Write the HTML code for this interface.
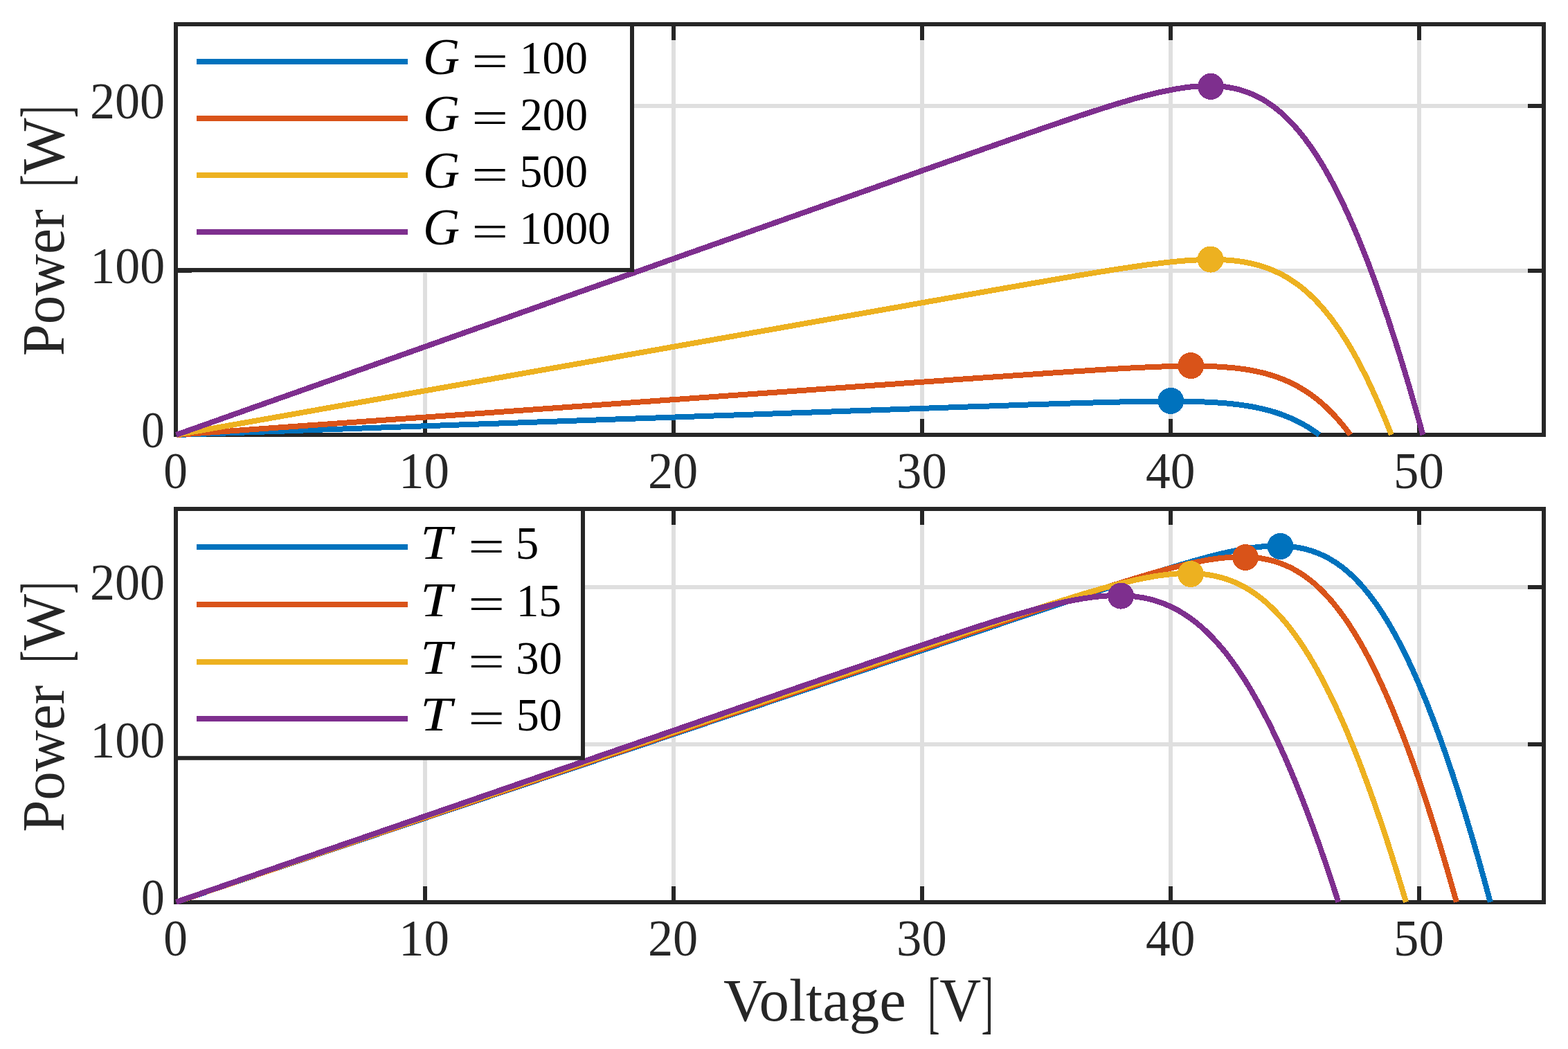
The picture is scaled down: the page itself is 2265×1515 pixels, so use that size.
<!DOCTYPE html>
<html><head><meta charset="utf-8"><title>PV curves</title>
<style>
html,body{margin:0;padding:0;background:#fff;overflow:hidden;width:2265px;height:1515px;}
svg{display:block;}
text{font-family:"Liberation Serif","DejaVu Serif",serif;}
.tk{font-size:73.5px;fill:#262626;}
.lg{font-size:68.5px;fill:#000;}
.it{font-style:italic;}
.lb{font-size:87px;fill:#262626;}
</style></head><body>
<svg width="2265" height="1515" viewBox="0 0 2265 1515">
<rect width="2265" height="1515" fill="#fff"/>
<rect x="611" y="35.0" width="6" height="593.0" fill="#dfdfdf"/>
<rect x="970" y="35.0" width="6" height="593.0" fill="#dfdfdf"/>
<rect x="1329" y="35.0" width="6" height="593.0" fill="#dfdfdf"/>
<rect x="1688" y="35.0" width="6" height="593.0" fill="#dfdfdf"/>
<rect x="2047" y="35.0" width="6" height="593.0" fill="#dfdfdf"/>
<rect x="254.0" y="388" width="1976.0" height="6" fill="#dfdfdf"/>
<rect x="254.0" y="150" width="1976.0" height="6" fill="#dfdfdf"/>
<rect x="611" y="605.0" width="6" height="23" fill="#262626"/>
<rect x="611" y="35.0" width="6" height="23" fill="#262626"/>
<rect x="970" y="605.0" width="6" height="23" fill="#262626"/>
<rect x="970" y="35.0" width="6" height="23" fill="#262626"/>
<rect x="1329" y="605.0" width="6" height="23" fill="#262626"/>
<rect x="1329" y="35.0" width="6" height="23" fill="#262626"/>
<rect x="1688" y="605.0" width="6" height="23" fill="#262626"/>
<rect x="1688" y="35.0" width="6" height="23" fill="#262626"/>
<rect x="2047" y="605.0" width="6" height="23" fill="#262626"/>
<rect x="2047" y="35.0" width="6" height="23" fill="#262626"/>
<rect x="254.0" y="388" width="23" height="6" fill="#262626"/>
<rect x="2207.0" y="388" width="23" height="6" fill="#262626"/>
<rect x="254.0" y="150" width="23" height="6" fill="#262626"/>
<rect x="2207.0" y="150" width="23" height="6" fill="#262626"/>
<rect x="254.0" y="35.0" width="1976.0" height="593.0" fill="none" stroke="#262626" stroke-width="6"/>
<polyline points="254.5,628.0 306.6,626.2 358.8,624.3 410.9,622.5 463.1,620.6 515.2,618.8 567.3,616.9 619.5,615.1 671.6,613.2 723.8,611.4 775.9,609.5 828.1,607.7 880.2,605.8 932.3,604.0 984.5,602.2 1036.6,600.3 1088.8,598.5 1140.9,596.6 1193.0,594.8 1245.2,592.9 1247.7,592.8 1250.3,592.7 1252.8,592.7 1255.4,592.6 1257.9,592.5 1260.5,592.4 1263.0,592.3 1265.6,592.2 1268.1,592.1 1270.7,592.0 1273.2,591.9 1275.8,591.8 1278.3,591.8 1280.9,591.7 1283.4,591.6 1286.0,591.5 1288.5,591.4 1291.1,591.3 1293.6,591.2 1296.2,591.1 1298.7,591.0 1301.3,590.9 1303.8,590.9 1306.4,590.8 1308.9,590.7 1311.5,590.6 1314.0,590.5 1316.6,590.4 1319.1,590.3 1321.7,590.2 1324.2,590.1 1326.8,590.0 1329.3,589.9 1331.9,589.9 1334.4,589.8 1337.0,589.7 1339.5,589.6 1342.1,589.5 1344.6,589.4 1347.2,589.3 1349.7,589.2 1352.3,589.1 1354.8,589.1 1357.4,589.0 1359.9,588.9 1362.5,588.8 1365.0,588.7 1367.6,588.6 1370.1,588.5 1372.7,588.4 1375.2,588.3 1377.8,588.2 1380.3,588.2 1382.9,588.1 1385.4,588.0 1388.0,587.9 1390.5,587.8 1393.1,587.7 1395.6,587.6 1398.2,587.5 1400.7,587.4 1403.3,587.3 1405.8,587.3 1408.4,587.2 1410.9,587.1 1413.5,587.0 1416.0,586.9 1418.6,586.8 1421.1,586.7 1423.7,586.6 1426.2,586.5 1428.8,586.5 1431.3,586.4 1433.9,586.3 1436.4,586.2 1439.0,586.1 1441.5,586.0 1444.1,585.9 1446.6,585.8 1449.2,585.8 1451.7,585.7 1454.3,585.6 1456.8,585.5 1459.4,585.4 1461.9,585.3 1464.5,585.2 1467.0,585.1 1469.6,585.0 1472.1,585.0 1474.7,584.9 1477.2,584.8 1479.8,584.7 1482.3,584.6 1484.9,584.5 1487.4,584.4 1490.0,584.4 1492.5,584.3 1495.1,584.2 1497.6,584.1 1500.2,584.0 1502.7,583.9 1505.3,583.8 1507.8,583.8 1510.4,583.7 1512.9,583.6 1515.5,583.5 1518.0,583.4 1520.6,583.3 1523.1,583.2 1525.7,583.2 1528.2,583.1 1530.8,583.0 1533.3,582.9 1535.9,582.8 1538.4,582.8 1541.0,582.7 1543.5,582.6 1546.1,582.5 1548.6,582.4 1551.2,582.3 1553.7,582.3 1556.3,582.2 1558.8,582.1 1561.4,582.0 1563.9,582.0 1566.5,581.9 1569.0,581.8 1571.6,581.7 1574.1,581.7 1576.7,581.6 1579.2,581.5 1581.8,581.4 1584.3,581.4 1586.9,581.3 1589.4,581.2 1592.0,581.1 1594.5,581.1 1597.1,581.0 1599.6,580.9 1602.2,580.9 1604.7,580.8 1607.3,580.7 1609.8,580.7 1612.4,580.6 1614.9,580.5 1617.5,580.5 1620.0,580.4 1622.6,580.4 1625.1,580.3 1627.7,580.3 1630.2,580.2 1632.8,580.1 1635.3,580.1 1637.9,580.0 1640.4,580.0 1643.0,579.9 1645.5,579.9 1648.1,579.9 1650.6,579.8 1653.2,579.8 1655.7,579.7 1658.3,579.7 1660.8,579.7 1663.4,579.6 1665.9,579.6 1668.5,579.6 1671.0,579.6 1673.6,579.6 1676.1,579.5 1678.7,579.5 1681.2,579.5 1683.8,579.5 1686.3,579.5 1688.9,579.5 1691.4,579.5 1694.0,579.5 1696.5,579.5 1699.1,579.5 1701.6,579.5 1704.2,579.6 1706.7,579.6 1709.3,579.6 1711.8,579.7 1714.4,579.7 1716.9,579.8 1719.5,579.8 1722.0,579.9 1724.6,579.9 1727.1,580.0 1729.7,580.1 1732.2,580.2 1734.8,580.3 1737.3,580.3 1739.9,580.5 1742.4,580.6 1745.0,580.7 1747.5,580.8 1750.1,581.0 1752.6,581.1 1755.2,581.3 1757.7,581.4 1760.3,581.6 1762.8,581.8 1765.4,582.0 1767.9,582.2 1770.5,582.4 1773.0,582.6 1775.6,582.9 1778.1,583.1 1780.7,583.4 1783.2,583.7 1785.8,584.0 1788.3,584.3 1790.9,584.6 1793.4,585.0 1796.0,585.4 1798.5,585.7 1801.1,586.1 1803.6,586.5 1806.2,587.0 1808.7,587.4 1811.3,587.9 1813.8,588.4 1816.4,588.9 1818.9,589.5 1821.5,590.0 1824.0,590.6 1826.6,591.2 1829.1,591.9 1831.7,592.5 1834.2,593.2 1836.8,594.0 1839.3,594.7 1841.9,595.5 1844.4,596.3 1847.0,597.2 1849.5,598.0 1852.1,598.9 1854.6,599.9 1857.2,600.9 1859.7,601.9 1862.3,603.0 1864.8,604.1 1867.4,605.2 1869.9,606.4 1872.5,607.6 1875.0,608.9 1877.6,610.2 1880.2,611.6 1882.7,613.0 1885.3,614.4 1887.8,615.9 1890.4,617.5 1892.9,619.1 1895.5,620.8 1898.0,622.5 1900.6,624.3 1903.1,626.1 1905.7,628.0" fill="none" stroke="#0072BD" stroke-width="8" stroke-linejoin="round" shape-rendering="crispEdges"/>
<polyline points="254.5,628.0 308.1,624.2 361.6,620.4 415.2,616.6 468.7,612.8 522.3,609.0 575.9,605.2 629.4,601.5 683.0,597.7 736.5,593.9 790.1,590.1 843.7,586.3 897.2,582.5 950.8,578.7 1004.3,574.9 1057.9,571.1 1111.5,567.3 1165.0,563.5 1218.6,559.7 1272.1,555.9 1274.7,555.8 1277.4,555.6 1280.0,555.4 1282.6,555.2 1285.2,555.0 1287.8,554.8 1290.5,554.6 1293.1,554.5 1295.7,554.3 1298.3,554.1 1300.9,553.9 1303.6,553.7 1306.2,553.5 1308.8,553.3 1311.4,553.2 1314.0,553.0 1316.7,552.8 1319.3,552.6 1321.9,552.4 1324.5,552.2 1327.1,552.0 1329.8,551.9 1332.4,551.7 1335.0,551.5 1337.6,551.3 1340.2,551.1 1342.9,550.9 1345.5,550.8 1348.1,550.6 1350.7,550.4 1353.3,550.2 1355.9,550.0 1358.6,549.8 1361.2,549.6 1363.8,549.5 1366.4,549.3 1369.0,549.1 1371.7,548.9 1374.3,548.7 1376.9,548.5 1379.5,548.4 1382.1,548.2 1384.8,548.0 1387.4,547.8 1390.0,547.6 1392.6,547.4 1395.2,547.2 1397.9,547.1 1400.5,546.9 1403.1,546.7 1405.7,546.5 1408.3,546.3 1411.0,546.1 1413.6,546.0 1416.2,545.8 1418.8,545.6 1421.4,545.4 1424.1,545.2 1426.7,545.0 1429.3,544.9 1431.9,544.7 1434.5,544.5 1437.1,544.3 1439.8,544.1 1442.4,543.9 1445.0,543.8 1447.6,543.6 1450.2,543.4 1452.9,543.2 1455.5,543.0 1458.1,542.8 1460.7,542.7 1463.3,542.5 1466.0,542.3 1468.6,542.1 1471.2,541.9 1473.8,541.7 1476.4,541.6 1479.1,541.4 1481.7,541.2 1484.3,541.0 1486.9,540.8 1489.5,540.7 1492.2,540.5 1494.8,540.3 1497.4,540.1 1500.0,539.9 1502.6,539.8 1505.3,539.6 1507.9,539.4 1510.5,539.2 1513.1,539.0 1515.7,538.9 1518.4,538.7 1521.0,538.5 1523.6,538.3 1526.2,538.2 1528.8,538.0 1531.4,537.8 1534.1,537.6 1536.7,537.5 1539.3,537.3 1541.9,537.1 1544.5,536.9 1547.2,536.8 1549.8,536.6 1552.4,536.4 1555.0,536.2 1557.6,536.1 1560.3,535.9 1562.9,535.7 1565.5,535.6 1568.1,535.4 1570.7,535.2 1573.4,535.1 1576.0,534.9 1578.6,534.7 1581.2,534.6 1583.8,534.4 1586.5,534.2 1589.1,534.1 1591.7,533.9 1594.3,533.7 1596.9,533.6 1599.6,533.4 1602.2,533.3 1604.8,533.1 1607.4,533.0 1610.0,532.8 1612.6,532.7 1615.3,532.5 1617.9,532.4 1620.5,532.2 1623.1,532.1 1625.7,531.9 1628.4,531.8 1631.0,531.6 1633.6,531.5 1636.2,531.4 1638.8,531.2 1641.5,531.1 1644.1,531.0 1646.7,530.8 1649.3,530.7 1651.9,530.6 1654.6,530.5 1657.2,530.3 1659.8,530.2 1662.4,530.1 1665.0,530.0 1667.7,529.9 1670.3,529.8 1672.9,529.7 1675.5,529.6 1678.1,529.5 1680.8,529.4 1683.4,529.3 1686.0,529.2 1688.6,529.2 1691.2,529.1 1693.8,529.0 1696.5,529.0 1699.1,528.9 1701.7,528.9 1704.3,528.8 1706.9,528.8 1709.6,528.7 1712.2,528.7 1714.8,528.7 1717.4,528.7 1720.0,528.7 1722.7,528.7 1725.3,528.7 1727.9,528.7 1730.5,528.7 1733.1,528.7 1735.8,528.8 1738.4,528.8 1741.0,528.9 1743.6,528.9 1746.2,529.0 1748.9,529.1 1751.5,529.2 1754.1,529.3 1756.7,529.4 1759.3,529.6 1762.0,529.7 1764.6,529.9 1767.2,530.1 1769.8,530.3 1772.4,530.5 1775.0,530.7 1777.7,530.9 1780.3,531.2 1782.9,531.4 1785.5,531.7 1788.1,532.0 1790.8,532.3 1793.4,532.7 1796.0,533.1 1798.6,533.4 1801.2,533.9 1803.9,534.3 1806.5,534.7 1809.1,535.2 1811.7,535.7 1814.3,536.3 1817.0,536.8 1819.6,537.4 1822.2,538.0 1824.8,538.7 1827.4,539.3 1830.1,540.0 1832.7,540.8 1835.3,541.6 1837.9,542.4 1840.5,543.2 1843.2,544.1 1845.8,545.0 1848.4,546.0 1851.0,547.0 1853.6,548.0 1856.3,549.1 1858.9,550.2 1861.5,551.4 1864.1,552.6 1866.7,553.9 1869.3,555.2 1872.0,556.6 1874.6,558.0 1877.2,559.5 1879.8,561.0 1882.4,562.6 1885.1,564.2 1887.7,565.9 1890.3,567.7 1892.9,569.5 1895.5,571.4 1898.2,573.4 1900.8,575.4 1903.4,577.5 1906.0,579.6 1908.6,581.8 1911.3,584.1 1913.9,586.5 1916.5,588.9 1919.1,591.5 1921.7,594.1 1924.4,596.7 1927.0,599.5 1929.6,602.3 1932.2,605.2 1934.8,608.2 1937.5,611.3 1940.1,614.5 1942.7,617.7 1945.3,621.1 1947.9,624.5 1950.5,628.0" fill="none" stroke="#D95319" stroke-width="8" stroke-linejoin="round" shape-rendering="crispEdges"/>
<polyline points="254.5,628.0 309.9,618.2 365.4,608.4 420.8,598.6 476.2,588.7 531.7,578.9 587.1,569.1 642.5,559.3 697.9,549.5 753.4,539.7 808.8,529.9 864.2,520.1 919.7,510.2 975.1,500.4 1030.5,490.6 1086.0,480.8 1141.4,471.0 1196.8,461.2 1252.3,451.4 1307.7,441.6 1310.4,441.1 1313.1,440.6 1315.8,440.1 1318.5,439.6 1321.2,439.2 1324.0,438.7 1326.7,438.2 1329.4,437.7 1332.1,437.2 1334.8,436.8 1337.5,436.3 1340.2,435.8 1342.9,435.3 1345.6,434.8 1348.4,434.4 1351.1,433.9 1353.8,433.4 1356.5,432.9 1359.2,432.5 1361.9,432.0 1364.6,431.5 1367.3,431.0 1370.0,430.5 1372.7,430.1 1375.5,429.6 1378.2,429.1 1380.9,428.6 1383.6,428.1 1386.3,427.7 1389.0,427.2 1391.7,426.7 1394.4,426.2 1397.1,425.8 1399.9,425.3 1402.6,424.8 1405.3,424.3 1408.0,423.8 1410.7,423.4 1413.4,422.9 1416.1,422.4 1418.8,421.9 1421.5,421.5 1424.3,421.0 1427.0,420.5 1429.7,420.0 1432.4,419.5 1435.1,419.1 1437.8,418.6 1440.5,418.1 1443.2,417.6 1445.9,417.2 1448.7,416.7 1451.4,416.2 1454.1,415.7 1456.8,415.3 1459.5,414.8 1462.2,414.3 1464.9,413.8 1467.6,413.4 1470.3,412.9 1473.1,412.4 1475.8,411.9 1478.5,411.5 1481.2,411.0 1483.9,410.5 1486.6,410.1 1489.3,409.6 1492.0,409.1 1494.7,408.6 1497.5,408.2 1500.2,407.7 1502.9,407.2 1505.6,406.8 1508.3,406.3 1511.0,405.8 1513.7,405.4 1516.4,404.9 1519.1,404.4 1521.8,404.0 1524.6,403.5 1527.3,403.0 1530.0,402.6 1532.7,402.1 1535.4,401.6 1538.1,401.2 1540.8,400.7 1543.5,400.3 1546.2,399.8 1549.0,399.3 1551.7,398.9 1554.4,398.4 1557.1,398.0 1559.8,397.5 1562.5,397.1 1565.2,396.6 1567.9,396.2 1570.6,395.7 1573.4,395.3 1576.1,394.8 1578.8,394.4 1581.5,393.9 1584.2,393.5 1586.9,393.0 1589.6,392.6 1592.3,392.2 1595.0,391.7 1597.8,391.3 1600.5,390.9 1603.2,390.4 1605.9,390.0 1608.6,389.6 1611.3,389.1 1614.0,388.7 1616.7,388.3 1619.4,387.9 1622.2,387.5 1624.9,387.1 1627.6,386.7 1630.3,386.3 1633.0,385.9 1635.7,385.5 1638.4,385.1 1641.1,384.7 1643.8,384.3 1646.6,383.9 1649.3,383.5 1652.0,383.2 1654.7,382.8 1657.4,382.4 1660.1,382.1 1662.8,381.7 1665.5,381.4 1668.2,381.0 1670.9,380.7 1673.7,380.4 1676.4,380.0 1679.1,379.7 1681.8,379.4 1684.5,379.1 1687.2,378.8 1689.9,378.5 1692.6,378.2 1695.3,378.0 1698.1,377.7 1700.8,377.4 1703.5,377.2 1706.2,377.0 1708.9,376.7 1711.6,376.5 1714.3,376.3 1717.0,376.1 1719.7,375.9 1722.5,375.8 1725.2,375.6 1727.9,375.5 1730.6,375.3 1733.3,375.2 1736.0,375.1 1738.7,375.1 1741.4,375.0 1744.1,374.9 1746.9,374.9 1749.6,374.9 1752.3,374.9 1755.0,374.9 1757.7,375.0 1760.4,375.0 1763.1,375.1 1765.8,375.2 1768.5,375.4 1771.3,375.5 1774.0,375.7 1776.7,375.9 1779.4,376.2 1782.1,376.4 1784.8,376.7 1787.5,377.1 1790.2,377.4 1792.9,377.8 1795.7,378.2 1798.4,378.7 1801.1,379.2 1803.8,379.7 1806.5,380.3 1809.2,380.9 1811.9,381.5 1814.6,382.2 1817.3,383.0 1820.0,383.7 1822.8,384.6 1825.5,385.4 1828.2,386.4 1830.9,387.3 1833.6,388.3 1836.3,389.4 1839.0,390.5 1841.7,391.7 1844.4,393.0 1847.2,394.2 1849.9,395.6 1852.6,397.0 1855.3,398.5 1858.0,400.0 1860.7,401.7 1863.4,403.3 1866.1,405.1 1868.8,406.9 1871.6,408.8 1874.3,410.7 1877.0,412.8 1879.7,414.9 1882.4,417.1 1885.1,419.4 1887.8,421.7 1890.5,424.1 1893.2,426.7 1896.0,429.3 1898.7,432.0 1901.4,434.7 1904.1,437.6 1906.8,440.6 1909.5,443.6 1912.2,446.7 1914.9,450.0 1917.6,453.3 1920.4,456.7 1923.1,460.2 1925.8,463.9 1928.5,467.6 1931.2,471.4 1933.9,475.3 1936.6,479.3 1939.3,483.5 1942.0,487.7 1944.8,492.0 1947.5,496.4 1950.2,501.0 1952.9,505.6 1955.6,510.4 1958.3,515.2 1961.0,520.2 1963.7,525.3 1966.4,530.4 1969.1,535.7 1971.9,541.1 1974.6,546.6 1977.3,552.2 1980.0,557.9 1982.7,563.8 1985.4,569.7 1988.1,575.7 1990.8,581.9 1993.5,588.2 1996.3,594.5 1999.0,601.0 2001.7,607.6 2004.4,614.3 2007.1,621.1 2009.8,628.0" fill="none" stroke="#EDB120" stroke-width="8" stroke-linejoin="round" shape-rendering="crispEdges"/>
<polyline points="254.5,628.0 311.4,607.9 368.2,587.7 425.1,567.6 482.0,547.5 538.9,527.3 595.7,507.2 652.6,487.0 709.5,466.9 766.3,446.8 823.2,426.6 880.1,406.5 937.0,386.4 993.8,366.2 1050.7,346.1 1107.6,325.9 1164.4,305.8 1221.3,285.7 1278.2,265.6 1335.1,245.4 1337.8,244.5 1340.6,243.5 1343.4,242.5 1346.2,241.5 1349.0,240.5 1351.7,239.5 1354.5,238.6 1357.3,237.6 1360.1,236.6 1362.9,235.6 1365.7,234.6 1368.4,233.6 1371.2,232.7 1374.0,231.7 1376.8,230.7 1379.6,229.7 1382.3,228.7 1385.1,227.8 1387.9,226.8 1390.7,225.8 1393.5,224.8 1396.2,223.8 1399.0,222.9 1401.8,221.9 1404.6,220.9 1407.4,219.9 1410.2,218.9 1412.9,218.0 1415.7,217.0 1418.5,216.0 1421.3,215.0 1424.1,214.0 1426.8,213.1 1429.6,212.1 1432.4,211.1 1435.2,210.1 1438.0,209.2 1440.7,208.2 1443.5,207.2 1446.3,206.2 1449.1,205.3 1451.9,204.3 1454.7,203.3 1457.4,202.3 1460.2,201.4 1463.0,200.4 1465.8,199.4 1468.6,198.5 1471.3,197.5 1474.1,196.5 1476.9,195.5 1479.7,194.6 1482.5,193.6 1485.3,192.6 1488.0,191.7 1490.8,190.7 1493.6,189.7 1496.4,188.8 1499.2,187.8 1501.9,186.9 1504.7,185.9 1507.5,184.9 1510.3,184.0 1513.1,183.0 1515.8,182.1 1518.6,181.1 1521.4,180.2 1524.2,179.2 1527.0,178.3 1529.8,177.3 1532.5,176.4 1535.3,175.4 1538.1,174.5 1540.9,173.5 1543.7,172.6 1546.4,171.7 1549.2,170.7 1552.0,169.8 1554.8,168.9 1557.6,167.9 1560.3,167.0 1563.1,166.1 1565.9,165.2 1568.7,164.3 1571.5,163.3 1574.3,162.4 1577.0,161.5 1579.8,160.6 1582.6,159.7 1585.4,158.8 1588.2,157.9 1590.9,157.0 1593.7,156.2 1596.5,155.3 1599.3,154.4 1602.1,153.5 1604.8,152.7 1607.6,151.8 1610.4,150.9 1613.2,150.1 1616.0,149.2 1618.8,148.4 1621.5,147.6 1624.3,146.8 1627.1,145.9 1629.9,145.1 1632.7,144.3 1635.4,143.5 1638.2,142.7 1641.0,142.0 1643.8,141.2 1646.6,140.4 1649.4,139.7 1652.1,138.9 1654.9,138.2 1657.7,137.5 1660.5,136.8 1663.3,136.1 1666.0,135.4 1668.8,134.7 1671.6,134.1 1674.4,133.4 1677.2,132.8 1679.9,132.2 1682.7,131.6 1685.5,131.0 1688.3,130.5 1691.1,129.9 1693.9,129.4 1696.6,128.9 1699.4,128.4 1702.2,127.9 1705.0,127.5 1707.8,127.1 1710.5,126.6 1713.3,126.3 1716.1,125.9 1718.9,125.6 1721.7,125.3 1724.4,125.0 1727.2,124.8 1730.0,124.6 1732.8,124.4 1735.6,124.2 1738.4,124.1 1741.1,124.0 1743.9,124.0 1746.7,124.0 1749.5,124.0 1752.3,124.0 1755.0,124.2 1757.8,124.3 1760.6,124.5 1763.4,124.7 1766.2,125.0 1768.9,125.3 1771.7,125.7 1774.5,126.1 1777.3,126.6 1780.1,127.1 1782.9,127.7 1785.6,128.3 1788.4,129.0 1791.2,129.8 1794.0,130.6 1796.8,131.5 1799.5,132.4 1802.3,133.4 1805.1,134.5 1807.9,135.6 1810.7,136.9 1813.5,138.1 1816.2,139.5 1819.0,140.9 1821.8,142.4 1824.6,144.0 1827.4,145.7 1830.1,147.4 1832.9,149.3 1835.7,151.2 1838.5,153.2 1841.3,155.2 1844.0,157.4 1846.8,159.7 1849.6,162.0 1852.4,164.5 1855.2,167.0 1858.0,169.7 1860.7,172.4 1863.5,175.2 1866.3,178.1 1869.1,181.2 1871.9,184.3 1874.6,187.5 1877.4,190.8 1880.2,194.3 1883.0,197.8 1885.8,201.5 1888.5,205.2 1891.3,209.1 1894.1,213.0 1896.9,217.1 1899.7,221.3 1902.5,225.5 1905.2,229.9 1908.0,234.4 1910.8,239.1 1913.6,243.8 1916.4,248.6 1919.1,253.6 1921.9,258.6 1924.7,263.8 1927.5,269.1 1930.3,274.5 1933.0,280.0 1935.8,285.6 1938.6,291.3 1941.4,297.1 1944.2,303.1 1947.0,309.1 1949.7,315.3 1952.5,321.6 1955.3,328.0 1958.1,334.5 1960.9,341.1 1963.6,347.8 1966.4,354.6 1969.2,361.6 1972.0,368.6 1974.8,375.8 1977.6,383.0 1980.3,390.4 1983.1,397.9 1985.9,405.5 1988.7,413.2 1991.5,421.0 1994.2,428.9 1997.0,436.9 1999.8,445.0 2002.6,453.2 2005.4,461.5 2008.1,469.9 2010.9,478.4 2013.7,487.0 2016.5,495.7 2019.3,504.6 2022.1,513.5 2024.8,522.5 2027.6,531.6 2030.4,540.8 2033.2,550.1 2036.0,559.5 2038.7,569.0 2041.5,578.6 2044.3,588.3 2047.1,598.1 2049.9,608.0 2052.6,617.9 2055.4,628.0" fill="none" stroke="#7E2F8E" stroke-width="8" stroke-linejoin="round" shape-rendering="crispEdges"/>
<circle cx="1691.3" cy="578.9" r="19" fill="#0072BD" shape-rendering="crispEdges"/>
<circle cx="1720.3" cy="528.1" r="19" fill="#D95319" shape-rendering="crispEdges"/>
<circle cx="1748.6" cy="374.6" r="19" fill="#EDB120" shape-rendering="crispEdges"/>
<circle cx="1749.0" cy="124.9" r="19" fill="#7E2F8E" shape-rendering="crispEdges"/>
<rect x="254.0" y="35" width="659.0" height="355" fill="#fff" stroke="#262626" stroke-width="6"/>
<line x1="284" y1="89" x2="589" y2="89" stroke="#0072BD" stroke-width="8"/>
<text x="611" y="107.1" class="lg it" style="font-size:73.5px">G</text>
<text transform="translate(681.2,110.9) scale(1.38,1)" class="lg" style="font-size:68px">=</text>
<text transform="translate(750.76,105.60) scale(0.9557,1.0000)" class="lg" style="font-size:68.5px">100</text>
<line x1="284" y1="171" x2="589" y2="171" stroke="#D95319" stroke-width="8"/>
<text x="611" y="189.1" class="lg it" style="font-size:73.5px">G</text>
<text transform="translate(681.2,192.9) scale(1.38,1)" class="lg" style="font-size:68px">=</text>
<text transform="translate(751.29,187.60) scale(0.9515,1.0000)" class="lg" style="font-size:68.5px">200</text>
<line x1="284" y1="253" x2="589" y2="253" stroke="#EDB120" stroke-width="8"/>
<text x="611" y="271.1" class="lg it" style="font-size:73.5px">G</text>
<text transform="translate(681.2,274.9) scale(1.38,1)" class="lg" style="font-size:68px">=</text>
<text transform="translate(750.52,269.60) scale(0.9582,1.0000)" class="lg" style="font-size:68.5px">500</text>
<line x1="284" y1="335" x2="589" y2="335" stroke="#7E2F8E" stroke-width="8"/>
<text x="611" y="353.1" class="lg it" style="font-size:73.5px">G</text>
<text transform="translate(681.2,356.9) scale(1.38,1)" class="lg" style="font-size:68px">=</text>
<text transform="translate(750.33,351.60) scale(0.9616,1.0000)" class="lg" style="font-size:68.5px">1000</text>
<text transform="translate(236.22,704.80) scale(0.9431,1.0000)" class="tk" style="font-size:73.5px">0</text>
<text transform="translate(575.95,704.80) scale(0.9952,1.0000)" class="tk" style="font-size:73.5px">10</text>
<text transform="translate(935.91,704.80) scale(0.9846,1.0000)" class="tk" style="font-size:73.5px">20</text>
<text transform="translate(1295.09,704.80) scale(0.9890,1.0000)" class="tk" style="font-size:73.5px">30</text>
<text transform="translate(1655.09,704.80) scale(0.9708,1.0000)" class="tk" style="font-size:73.5px">40</text>
<text transform="translate(2013.06,704.80) scale(0.9908,1.0000)" class="tk" style="font-size:73.5px">50</text>
<text transform="translate(204.07,646.30) scale(0.9184,1.0000)" class="tk" style="font-size:73.5px">0</text>
<text transform="translate(130.24,408.85) scale(0.9788,1.0000)" class="tk" style="font-size:73.5px">100</text>
<text transform="translate(130.02,171.40) scale(0.9809,1.0000)" class="tk" style="font-size:73.5px">200</text>
<rect x="611" y="735.0" width="6" height="568.0" fill="#dfdfdf"/>
<rect x="970" y="735.0" width="6" height="568.0" fill="#dfdfdf"/>
<rect x="1329" y="735.0" width="6" height="568.0" fill="#dfdfdf"/>
<rect x="1688" y="735.0" width="6" height="568.0" fill="#dfdfdf"/>
<rect x="2047" y="735.0" width="6" height="568.0" fill="#dfdfdf"/>
<rect x="254.0" y="1072" width="1976.0" height="6" fill="#dfdfdf"/>
<rect x="254.0" y="845" width="1976.0" height="6" fill="#dfdfdf"/>
<rect x="611" y="1280.0" width="6" height="23" fill="#262626"/>
<rect x="611" y="735.0" width="6" height="23" fill="#262626"/>
<rect x="970" y="1280.0" width="6" height="23" fill="#262626"/>
<rect x="970" y="735.0" width="6" height="23" fill="#262626"/>
<rect x="1329" y="1280.0" width="6" height="23" fill="#262626"/>
<rect x="1329" y="735.0" width="6" height="23" fill="#262626"/>
<rect x="1688" y="1280.0" width="6" height="23" fill="#262626"/>
<rect x="1688" y="735.0" width="6" height="23" fill="#262626"/>
<rect x="2047" y="1280.0" width="6" height="23" fill="#262626"/>
<rect x="2047" y="735.0" width="6" height="23" fill="#262626"/>
<rect x="254.0" y="1072" width="23" height="6" fill="#262626"/>
<rect x="2207.0" y="1072" width="23" height="6" fill="#262626"/>
<rect x="254.0" y="845" width="23" height="6" fill="#262626"/>
<rect x="2207.0" y="845" width="23" height="6" fill="#262626"/>
<rect x="254.0" y="735.0" width="1976.0" height="568.0" fill="none" stroke="#262626" stroke-width="6"/>
<polyline points="254.5,1302.8 314.4,1282.6 374.4,1262.3 434.3,1242.1 494.3,1221.9 554.2,1201.7 614.2,1181.4 674.1,1161.2 734.1,1141.0 794.0,1120.7 854.0,1100.5 913.9,1080.3 973.8,1060.1 1033.8,1039.8 1093.7,1019.6 1153.7,999.4 1213.6,979.1 1273.6,958.9 1333.5,938.7 1393.5,918.5 1396.4,917.5 1399.3,916.5 1402.3,915.5 1405.2,914.5 1408.1,913.5 1411.0,912.5 1414.0,911.6 1416.9,910.6 1419.8,909.6 1422.8,908.6 1425.7,907.6 1428.6,906.6 1431.6,905.6 1434.5,904.6 1437.4,903.7 1440.4,902.7 1443.3,901.7 1446.2,900.7 1449.2,899.7 1452.1,898.7 1455.0,897.7 1458.0,896.7 1460.9,895.8 1463.8,894.8 1466.8,893.8 1469.7,892.8 1472.6,891.8 1475.5,890.8 1478.5,889.8 1481.4,888.9 1484.3,887.9 1487.3,886.9 1490.2,885.9 1493.1,884.9 1496.1,883.9 1499.0,882.9 1501.9,882.0 1504.9,881.0 1507.8,880.0 1510.7,879.0 1513.7,878.0 1516.6,877.0 1519.5,876.0 1522.5,875.1 1525.4,874.1 1528.3,873.1 1531.2,872.1 1534.2,871.1 1537.1,870.2 1540.0,869.2 1543.0,868.2 1545.9,867.2 1548.8,866.2 1551.8,865.2 1554.7,864.3 1557.6,863.3 1560.6,862.3 1563.5,861.3 1566.4,860.4 1569.4,859.4 1572.3,858.4 1575.2,857.4 1578.2,856.5 1581.1,855.5 1584.0,854.5 1587.0,853.5 1589.9,852.6 1592.8,851.6 1595.7,850.6 1598.7,849.7 1601.6,848.7 1604.5,847.7 1607.5,846.8 1610.4,845.8 1613.3,844.8 1616.3,843.9 1619.2,842.9 1622.1,841.9 1625.1,841.0 1628.0,840.0 1630.9,839.1 1633.9,838.1 1636.8,837.2 1639.7,836.2 1642.7,835.3 1645.6,834.3 1648.5,833.4 1651.4,832.4 1654.4,831.5 1657.3,830.6 1660.2,829.6 1663.2,828.7 1666.1,827.8 1669.0,826.8 1672.0,825.9 1674.9,825.0 1677.8,824.1 1680.8,823.2 1683.7,822.3 1686.6,821.4 1689.6,820.5 1692.5,819.6 1695.4,818.7 1698.4,817.8 1701.3,816.9 1704.2,816.0 1707.2,815.1 1710.1,814.3 1713.0,813.4 1715.9,812.6 1718.9,811.7 1721.8,810.9 1724.7,810.0 1727.7,809.2 1730.6,808.4 1733.5,807.6 1736.5,806.8 1739.4,806.0 1742.3,805.2 1745.3,804.4 1748.2,803.7 1751.1,802.9 1754.1,802.2 1757.0,801.4 1759.9,800.7 1762.9,800.0 1765.8,799.3 1768.7,798.6 1771.6,798.0 1774.6,797.3 1777.5,796.7 1780.4,796.1 1783.4,795.5 1786.3,794.9 1789.2,794.3 1792.2,793.8 1795.1,793.2 1798.0,792.7 1801.0,792.3 1803.9,791.8 1806.8,791.4 1809.8,790.9 1812.7,790.6 1815.6,790.2 1818.6,789.9 1821.5,789.6 1824.4,789.3 1827.3,789.1 1830.3,788.9 1833.2,788.7 1836.1,788.6 1839.1,788.5 1842.0,788.4 1844.9,788.4 1847.9,788.4 1850.8,788.5 1853.7,788.6 1856.7,788.7 1859.6,788.9 1862.5,789.2 1865.5,789.5 1868.4,789.9 1871.3,790.3 1874.3,790.7 1877.2,791.3 1880.1,791.8 1883.1,792.5 1886.0,793.2 1888.9,794.0 1891.8,794.8 1894.8,795.7 1897.7,796.7 1900.6,797.8 1903.6,798.9 1906.5,800.1 1909.4,801.4 1912.4,802.8 1915.3,804.3 1918.2,805.8 1921.2,807.4 1924.1,809.2 1927.0,811.0 1930.0,812.9 1932.9,814.9 1935.8,817.0 1938.8,819.2 1941.7,821.5 1944.6,823.9 1947.5,826.4 1950.5,829.0 1953.4,831.7 1956.3,834.6 1959.3,837.5 1962.2,840.6 1965.1,843.7 1968.1,847.0 1971.0,850.4 1973.9,853.9 1976.9,857.6 1979.8,861.3 1982.7,865.2 1985.7,869.2 1988.6,873.3 1991.5,877.6 1994.5,881.9 1997.4,886.4 2000.3,891.0 2003.3,895.8 2006.2,900.7 2009.1,905.7 2012.0,910.8 2015.0,916.1 2017.9,921.4 2020.8,927.0 2023.8,932.6 2026.7,938.4 2029.6,944.3 2032.6,950.3 2035.5,956.5 2038.4,962.7 2041.4,969.2 2044.3,975.7 2047.2,982.4 2050.2,989.2 2053.1,996.1 2056.0,1003.1 2059.0,1010.3 2061.9,1017.6 2064.8,1025.0 2067.7,1032.6 2070.7,1040.3 2073.6,1048.1 2076.5,1056.0 2079.5,1064.0 2082.4,1072.2 2085.3,1080.5 2088.3,1088.9 2091.2,1097.4 2094.1,1106.1 2097.1,1114.8 2100.0,1123.7 2102.9,1132.7 2105.9,1141.8 2108.8,1151.0 2111.7,1160.4 2114.7,1169.8 2117.6,1179.4 2120.5,1189.1 2123.4,1198.9 2126.4,1208.8 2129.3,1218.8 2132.2,1228.9 2135.2,1239.2 2138.1,1249.5 2141.0,1260.0 2144.0,1270.5 2146.9,1281.2 2149.8,1291.9 2152.8,1302.8" fill="none" stroke="#0072BD" stroke-width="8" stroke-linejoin="round" shape-rendering="crispEdges"/>
<polyline points="254.5,1302.8 312.9,1283.0 371.3,1263.2 429.7,1243.4 488.1,1223.6 546.5,1203.8 604.9,1184.0 663.3,1164.2 721.7,1144.4 780.1,1124.6 838.5,1104.7 896.9,1084.9 955.3,1065.1 1013.7,1045.3 1072.1,1025.5 1130.5,1005.7 1188.9,985.9 1247.3,966.1 1305.7,946.3 1364.2,926.5 1367.0,925.6 1369.9,924.6 1372.7,923.6 1375.6,922.7 1378.4,921.7 1381.3,920.7 1384.1,919.8 1387.0,918.8 1389.9,917.8 1392.7,916.9 1395.6,915.9 1398.4,914.9 1401.3,914.0 1404.1,913.0 1407.0,912.0 1409.9,911.1 1412.7,910.1 1415.6,909.1 1418.4,908.2 1421.3,907.2 1424.1,906.2 1427.0,905.3 1429.8,904.3 1432.7,903.3 1435.6,902.4 1438.4,901.4 1441.3,900.4 1444.1,899.5 1447.0,898.5 1449.8,897.6 1452.7,896.6 1455.6,895.6 1458.4,894.7 1461.3,893.7 1464.1,892.7 1467.0,891.8 1469.8,890.8 1472.7,889.9 1475.5,888.9 1478.4,887.9 1481.3,887.0 1484.1,886.0 1487.0,885.1 1489.8,884.1 1492.7,883.1 1495.5,882.2 1498.4,881.2 1501.3,880.3 1504.1,879.3 1507.0,878.3 1509.8,877.4 1512.7,876.4 1515.5,875.5 1518.4,874.5 1521.2,873.6 1524.1,872.6 1527.0,871.7 1529.8,870.7 1532.7,869.8 1535.5,868.8 1538.4,867.9 1541.2,866.9 1544.1,866.0 1547.0,865.0 1549.8,864.1 1552.7,863.1 1555.5,862.2 1558.4,861.3 1561.2,860.3 1564.1,859.4 1566.9,858.4 1569.8,857.5 1572.7,856.6 1575.5,855.6 1578.4,854.7 1581.2,853.8 1584.1,852.9 1586.9,851.9 1589.8,851.0 1592.7,850.1 1595.5,849.2 1598.4,848.2 1601.2,847.3 1604.1,846.4 1606.9,845.5 1609.8,844.6 1612.6,843.7 1615.5,842.8 1618.4,841.9 1621.2,841.0 1624.1,840.1 1626.9,839.2 1629.8,838.3 1632.6,837.4 1635.5,836.6 1638.4,835.7 1641.2,834.8 1644.1,834.0 1646.9,833.1 1649.8,832.2 1652.6,831.4 1655.5,830.6 1658.3,829.7 1661.2,828.9 1664.1,828.1 1666.9,827.2 1669.8,826.4 1672.6,825.6 1675.5,824.8 1678.3,824.0 1681.2,823.2 1684.0,822.5 1686.9,821.7 1689.8,820.9 1692.6,820.2 1695.5,819.4 1698.3,818.7 1701.2,818.0 1704.0,817.3 1706.9,816.6 1709.8,815.9 1712.6,815.2 1715.5,814.6 1718.3,813.9 1721.2,813.3 1724.0,812.7 1726.9,812.1 1729.7,811.5 1732.6,810.9 1735.5,810.4 1738.3,809.8 1741.2,809.3 1744.0,808.8 1746.9,808.3 1749.7,807.9 1752.6,807.5 1755.5,807.1 1758.3,806.7 1761.2,806.3 1764.0,806.0 1766.9,805.7 1769.7,805.4 1772.6,805.1 1775.4,804.9 1778.3,804.7 1781.2,804.5 1784.0,804.4 1786.9,804.3 1789.7,804.3 1792.6,804.2 1795.4,804.2 1798.3,804.3 1801.2,804.4 1804.0,804.5 1806.9,804.7 1809.7,804.9 1812.6,805.2 1815.4,805.5 1818.3,805.9 1821.1,806.3 1824.0,806.8 1826.9,807.3 1829.7,807.9 1832.6,808.5 1835.4,809.2 1838.3,809.9 1841.1,810.8 1844.0,811.6 1846.9,812.6 1849.7,813.6 1852.6,814.7 1855.4,815.8 1858.3,817.0 1861.1,818.3 1864.0,819.7 1866.8,821.1 1869.7,822.7 1872.6,824.3 1875.4,826.0 1878.3,827.7 1881.1,829.6 1884.0,831.5 1886.8,833.6 1889.7,835.7 1892.6,837.9 1895.4,840.2 1898.3,842.6 1901.1,845.1 1904.0,847.7 1906.8,850.4 1909.7,853.2 1912.5,856.1 1915.4,859.1 1918.3,862.2 1921.1,865.4 1924.0,868.7 1926.8,872.1 1929.7,875.6 1932.5,879.3 1935.4,883.0 1938.3,886.9 1941.1,890.8 1944.0,894.9 1946.8,899.1 1949.7,903.4 1952.5,907.8 1955.4,912.3 1958.2,917.0 1961.1,921.7 1964.0,926.6 1966.8,931.6 1969.7,936.7 1972.5,941.9 1975.4,947.2 1978.2,952.7 1981.1,958.3 1984.0,963.9 1986.8,969.7 1989.7,975.6 1992.5,981.7 1995.4,987.8 1998.2,994.1 2001.1,1000.4 2003.9,1006.9 2006.8,1013.5 2009.7,1020.2 2012.5,1027.1 2015.4,1034.0 2018.2,1041.1 2021.1,1048.2 2023.9,1055.5 2026.8,1062.9 2029.7,1070.4 2032.5,1078.0 2035.4,1085.8 2038.2,1093.6 2041.1,1101.6 2043.9,1109.6 2046.8,1117.8 2049.6,1126.0 2052.5,1134.4 2055.4,1142.9 2058.2,1151.5 2061.1,1160.2 2063.9,1169.0 2066.8,1177.9 2069.6,1186.9 2072.5,1196.0 2075.4,1205.2 2078.2,1214.5 2081.1,1223.9 2083.9,1233.4 2086.8,1243.1 2089.6,1252.8 2092.5,1262.6 2095.3,1272.5 2098.2,1282.5 2101.1,1292.6 2103.9,1302.8" fill="none" stroke="#D95319" stroke-width="8" stroke-linejoin="round" shape-rendering="crispEdges"/>
<polyline points="254.5,1302.8 310.6,1283.6 366.7,1264.5 422.8,1245.3 478.9,1226.1 535.0,1207.0 591.1,1187.8 647.2,1168.6 703.3,1149.5 759.4,1130.3 815.5,1111.2 871.6,1092.0 927.7,1072.8 983.8,1053.7 1039.9,1034.5 1096.0,1015.3 1152.1,996.2 1208.2,977.0 1264.3,957.9 1320.4,938.7 1323.1,937.8 1325.9,936.9 1328.6,935.9 1331.4,935.0 1334.1,934.1 1336.9,933.1 1339.6,932.2 1342.4,931.3 1345.1,930.3 1347.8,929.4 1350.6,928.5 1353.3,927.5 1356.1,926.6 1358.8,925.7 1361.6,924.7 1364.3,923.8 1367.0,922.9 1369.8,921.9 1372.5,921.0 1375.3,920.1 1378.0,919.1 1380.8,918.2 1383.5,917.3 1386.2,916.4 1389.0,915.4 1391.7,914.5 1394.5,913.6 1397.2,912.6 1400.0,911.7 1402.7,910.8 1405.5,909.9 1408.2,908.9 1410.9,908.0 1413.7,907.1 1416.4,906.2 1419.2,905.2 1421.9,904.3 1424.7,903.4 1427.4,902.5 1430.1,901.5 1432.9,900.6 1435.6,899.7 1438.4,898.8 1441.1,897.9 1443.9,896.9 1446.6,896.0 1449.4,895.1 1452.1,894.2 1454.8,893.3 1457.6,892.3 1460.3,891.4 1463.1,890.5 1465.8,889.6 1468.6,888.7 1471.3,887.8 1474.0,886.9 1476.8,886.0 1479.5,885.1 1482.3,884.2 1485.0,883.3 1487.8,882.3 1490.5,881.4 1493.3,880.5 1496.0,879.7 1498.7,878.8 1501.5,877.9 1504.2,877.0 1507.0,876.1 1509.7,875.2 1512.5,874.3 1515.2,873.4 1517.9,872.5 1520.7,871.6 1523.4,870.8 1526.2,869.9 1528.9,869.0 1531.7,868.2 1534.4,867.3 1537.1,866.4 1539.9,865.6 1542.6,864.7 1545.4,863.8 1548.1,863.0 1550.9,862.1 1553.6,861.3 1556.4,860.5 1559.1,859.6 1561.8,858.8 1564.6,858.0 1567.3,857.1 1570.1,856.3 1572.8,855.5 1575.6,854.7 1578.3,853.9 1581.0,853.1 1583.8,852.3 1586.5,851.5 1589.3,850.7 1592.0,849.9 1594.8,849.2 1597.5,848.4 1600.3,847.7 1603.0,846.9 1605.7,846.2 1608.5,845.4 1611.2,844.7 1614.0,844.0 1616.7,843.3 1619.5,842.6 1622.2,841.9 1624.9,841.2 1627.7,840.6 1630.4,839.9 1633.2,839.3 1635.9,838.6 1638.7,838.0 1641.4,837.4 1644.2,836.8 1646.9,836.2 1649.6,835.7 1652.4,835.1 1655.1,834.6 1657.9,834.1 1660.6,833.6 1663.4,833.1 1666.1,832.6 1668.8,832.2 1671.6,831.7 1674.3,831.3 1677.1,830.9 1679.8,830.6 1682.6,830.2 1685.3,829.9 1688.0,829.6 1690.8,829.3 1693.5,829.0 1696.3,828.8 1699.0,828.6 1701.8,828.4 1704.5,828.3 1707.3,828.2 1710.0,828.1 1712.7,828.0 1715.5,828.0 1718.2,828.0 1721.0,828.1 1723.7,828.1 1726.5,828.2 1729.2,828.4 1731.9,828.6 1734.7,828.8 1737.4,829.1 1740.2,829.4 1742.9,829.8 1745.7,830.2 1748.4,830.6 1751.2,831.1 1753.9,831.7 1756.6,832.2 1759.4,832.9 1762.1,833.6 1764.9,834.3 1767.6,835.1 1770.4,836.0 1773.1,836.9 1775.8,837.9 1778.6,838.9 1781.3,840.0 1784.1,841.2 1786.8,842.4 1789.6,843.7 1792.3,845.0 1795.1,846.5 1797.8,848.0 1800.5,849.5 1803.3,851.2 1806.0,852.9 1808.8,854.6 1811.5,856.5 1814.3,858.4 1817.0,860.4 1819.7,862.5 1822.5,864.7 1825.2,866.9 1828.0,869.3 1830.7,871.7 1833.5,874.2 1836.2,876.8 1838.9,879.5 1841.7,882.2 1844.4,885.1 1847.2,888.0 1849.9,891.0 1852.7,894.1 1855.4,897.3 1858.2,900.6 1860.9,904.0 1863.6,907.5 1866.4,911.1 1869.1,914.8 1871.9,918.5 1874.6,922.4 1877.4,926.4 1880.1,930.4 1882.8,934.6 1885.6,938.8 1888.3,943.2 1891.1,947.6 1893.8,952.2 1896.6,956.8 1899.3,961.6 1902.1,966.4 1904.8,971.4 1907.5,976.4 1910.3,981.6 1913.0,986.8 1915.8,992.1 1918.5,997.6 1921.3,1003.1 1924.0,1008.7 1926.7,1014.5 1929.5,1020.3 1932.2,1026.2 1935.0,1032.3 1937.7,1038.4 1940.5,1044.6 1943.2,1050.9 1946.0,1057.4 1948.7,1063.9 1951.4,1070.5 1954.2,1077.2 1956.9,1084.0 1959.7,1090.9 1962.4,1097.9 1965.2,1105.0 1967.9,1112.2 1970.6,1119.5 1973.4,1126.9 1976.1,1134.3 1978.9,1141.9 1981.6,1149.6 1984.4,1157.3 1987.1,1165.2 1989.8,1173.1 1992.6,1181.1 1995.3,1189.2 1998.1,1197.4 2000.8,1205.7 2003.6,1214.1 2006.3,1222.6 2009.1,1231.2 2011.8,1239.8 2014.5,1248.6 2017.3,1257.4 2020.0,1266.3 2022.8,1275.3 2025.5,1284.4 2028.3,1293.5 2031.0,1302.8" fill="none" stroke="#EDB120" stroke-width="8" stroke-linejoin="round" shape-rendering="crispEdges"/>
<polyline points="254.5,1302.8 307.5,1284.5 360.5,1266.2 413.5,1247.9 466.6,1229.6 519.6,1211.4 572.6,1193.1 625.6,1174.8 678.6,1156.5 731.6,1138.2 784.6,1119.9 837.7,1101.6 890.7,1083.3 943.7,1065.1 996.7,1046.8 1049.7,1028.5 1102.7,1010.2 1155.8,991.9 1208.8,973.7 1261.8,955.5 1264.4,954.6 1267.0,953.7 1269.6,952.9 1272.2,952.0 1274.7,951.1 1277.3,950.2 1279.9,949.3 1282.5,948.4 1285.1,947.5 1287.7,946.7 1290.3,945.8 1292.9,944.9 1295.5,944.0 1298.1,943.1 1300.7,942.2 1303.3,941.4 1305.9,940.5 1308.5,939.6 1311.0,938.7 1313.6,937.8 1316.2,937.0 1318.8,936.1 1321.4,935.2 1324.0,934.3 1326.6,933.4 1329.2,932.6 1331.8,931.7 1334.4,930.8 1337.0,929.9 1339.6,929.1 1342.2,928.2 1344.8,927.3 1347.3,926.5 1349.9,925.6 1352.5,924.7 1355.1,923.9 1357.7,923.0 1360.3,922.1 1362.9,921.3 1365.5,920.4 1368.1,919.5 1370.7,918.7 1373.3,917.8 1375.9,916.9 1378.5,916.1 1381.1,915.2 1383.6,914.4 1386.2,913.5 1388.8,912.7 1391.4,911.8 1394.0,911.0 1396.6,910.1 1399.2,909.3 1401.8,908.4 1404.4,907.6 1407.0,906.7 1409.6,905.9 1412.2,905.1 1414.8,904.2 1417.3,903.4 1419.9,902.6 1422.5,901.8 1425.1,900.9 1427.7,900.1 1430.3,899.3 1432.9,898.5 1435.5,897.7 1438.1,896.8 1440.7,896.0 1443.3,895.2 1445.9,894.4 1448.5,893.6 1451.1,892.8 1453.6,892.1 1456.2,891.3 1458.8,890.5 1461.4,889.7 1464.0,888.9 1466.6,888.2 1469.2,887.4 1471.8,886.6 1474.4,885.9 1477.0,885.1 1479.6,884.4 1482.2,883.6 1484.8,882.9 1487.4,882.2 1489.9,881.5 1492.5,880.7 1495.1,880.0 1497.7,879.3 1500.3,878.6 1502.9,878.0 1505.5,877.3 1508.1,876.6 1510.7,875.9 1513.3,875.3 1515.9,874.6 1518.5,874.0 1521.1,873.4 1523.7,872.7 1526.2,872.1 1528.8,871.5 1531.4,870.9 1534.0,870.3 1536.6,869.8 1539.2,869.2 1541.8,868.7 1544.4,868.1 1547.0,867.6 1549.6,867.1 1552.2,866.6 1554.8,866.1 1557.4,865.7 1560.0,865.2 1562.5,864.8 1565.1,864.3 1567.7,863.9 1570.3,863.6 1572.9,863.2 1575.5,862.8 1578.1,862.5 1580.7,862.2 1583.3,861.9 1585.9,861.6 1588.5,861.3 1591.1,861.1 1593.7,860.9 1596.2,860.7 1598.8,860.5 1601.4,860.4 1604.0,860.3 1606.6,860.2 1609.2,860.1 1611.8,860.1 1614.4,860.1 1617.0,860.1 1619.6,860.1 1622.2,860.2 1624.8,860.3 1627.4,860.4 1630.0,860.6 1632.5,860.8 1635.1,861.1 1637.7,861.3 1640.3,861.6 1642.9,862.0 1645.5,862.4 1648.1,862.8 1650.7,863.2 1653.3,863.7 1655.9,864.3 1658.5,864.8 1661.1,865.5 1663.7,866.1 1666.3,866.8 1668.8,867.6 1671.4,868.4 1674.0,869.3 1676.6,870.2 1679.2,871.1 1681.8,872.1 1684.4,873.1 1687.0,874.3 1689.6,875.4 1692.2,876.6 1694.8,877.9 1697.4,879.2 1700.0,880.6 1702.6,882.0 1705.1,883.5 1707.7,885.1 1710.3,886.7 1712.9,888.3 1715.5,890.1 1718.1,891.9 1720.7,893.7 1723.3,895.7 1725.9,897.7 1728.5,899.7 1731.1,901.9 1733.7,904.0 1736.3,906.3 1738.9,908.6 1741.4,911.0 1744.0,913.5 1746.6,916.1 1749.2,918.7 1751.8,921.4 1754.4,924.1 1757.0,927.0 1759.6,929.9 1762.2,932.8 1764.8,935.9 1767.4,939.0 1770.0,942.2 1772.6,945.5 1775.1,948.9 1777.7,952.3 1780.3,955.8 1782.9,959.4 1785.5,963.1 1788.1,966.9 1790.7,970.7 1793.3,974.6 1795.9,978.6 1798.5,982.6 1801.1,986.8 1803.7,991.0 1806.3,995.3 1808.9,999.7 1811.4,1004.2 1814.0,1008.7 1816.6,1013.3 1819.2,1018.1 1821.8,1022.8 1824.4,1027.7 1827.0,1032.7 1829.6,1037.7 1832.2,1042.8 1834.8,1048.0 1837.4,1053.2 1840.0,1058.6 1842.6,1064.0 1845.2,1069.5 1847.7,1075.1 1850.3,1080.8 1852.9,1086.5 1855.5,1092.3 1858.1,1098.3 1860.7,1104.2 1863.3,1110.3 1865.9,1116.4 1868.5,1122.7 1871.1,1128.9 1873.7,1135.3 1876.3,1141.8 1878.9,1148.3 1881.5,1154.9 1884.0,1161.6 1886.6,1168.3 1889.2,1175.2 1891.8,1182.1 1894.4,1189.1 1897.0,1196.1 1899.6,1203.3 1902.2,1210.5 1904.8,1217.8 1907.4,1225.1 1910.0,1232.6 1912.6,1240.1 1915.2,1247.7 1917.8,1255.3 1920.3,1263.1 1922.9,1270.9 1925.5,1278.7 1928.1,1286.7 1930.7,1294.7 1933.3,1302.8" fill="none" stroke="#7E2F8E" stroke-width="8" stroke-linejoin="round" shape-rendering="crispEdges"/>
<circle cx="1849.5" cy="789.0" r="19" fill="#0072BD" shape-rendering="crispEdges"/>
<circle cx="1799.0" cy="805.0" r="19" fill="#D95319" shape-rendering="crispEdges"/>
<circle cx="1720.0" cy="829.1" r="19" fill="#EDB120" shape-rendering="crispEdges"/>
<circle cx="1619.1" cy="860.6" r="19" fill="#7E2F8E" shape-rendering="crispEdges"/>
<rect x="254.0" y="735" width="588.0" height="359.79999999999995" fill="#fff" stroke="#262626" stroke-width="6"/>
<line x1="284" y1="790" x2="589" y2="790" stroke="#0072BD" stroke-width="8"/>
<text transform="translate(607,807.0) scale(1.18,1)" class="lg it" style="font-size:69.7px">T</text>
<text transform="translate(676.2,812.3) scale(1.38,1)" class="lg" style="font-size:68px">=</text>
<text transform="translate(744.64,807.00) scale(0.9802,1.0000)" class="lg" style="font-size:68.5px">5</text>
<line x1="284" y1="873" x2="589" y2="873" stroke="#D95319" stroke-width="8"/>
<text transform="translate(607,890.0) scale(1.18,1)" class="lg it" style="font-size:69.7px">T</text>
<text transform="translate(676.2,895.3) scale(1.38,1)" class="lg" style="font-size:68px">=</text>
<text transform="translate(745.68,890.00) scale(0.9530,1.0000)" class="lg" style="font-size:68.5px">15</text>
<line x1="284" y1="956" x2="589" y2="956" stroke="#EDB120" stroke-width="8"/>
<text transform="translate(607,973.0) scale(1.18,1)" class="lg it" style="font-size:69.7px">T</text>
<text transform="translate(676.2,978.3) scale(1.38,1)" class="lg" style="font-size:68px">=</text>
<text transform="translate(745.33,973.00) scale(0.9732,1.0000)" class="lg" style="font-size:68.5px">30</text>
<line x1="284" y1="1038" x2="589" y2="1038" stroke="#7E2F8E" stroke-width="8"/>
<text transform="translate(607,1055.0) scale(1.18,1)" class="lg it" style="font-size:69.7px">T</text>
<text transform="translate(676.2,1060.3) scale(1.38,1)" class="lg" style="font-size:68px">=</text>
<text transform="translate(745.68,1055.00) scale(0.9679,1.0000)" class="lg" style="font-size:68.5px">50</text>
<text transform="translate(236.22,1379.80) scale(0.9431,1.0000)" class="tk" style="font-size:73.5px">0</text>
<text transform="translate(575.95,1379.80) scale(0.9952,1.0000)" class="tk" style="font-size:73.5px">10</text>
<text transform="translate(935.91,1379.80) scale(0.9846,1.0000)" class="tk" style="font-size:73.5px">20</text>
<text transform="translate(1295.09,1379.80) scale(0.9890,1.0000)" class="tk" style="font-size:73.5px">30</text>
<text transform="translate(1655.09,1379.80) scale(0.9708,1.0000)" class="tk" style="font-size:73.5px">40</text>
<text transform="translate(2013.06,1379.80) scale(0.9908,1.0000)" class="tk" style="font-size:73.5px">50</text>
<text transform="translate(204.07,1321.10) scale(0.9184,1.0000)" class="tk" style="font-size:73.5px">0</text>
<text transform="translate(130.24,1093.60) scale(0.9788,1.0000)" class="tk" style="font-size:73.5px">100</text>
<text transform="translate(130.02,866.10) scale(0.9809,1.0000)" class="tk" style="font-size:73.5px">200</text>
<text transform="translate(92.00,512.70) rotate(-90) translate(-1.66,0) scale(0.9533,1.0000)" class="lb" style="font-size:87px">Power</text>
<text transform="translate(99.20,266.00) rotate(-90) translate(-3.65,0) scale(0.5997,1.1360)" class="lb" style="font-size:87px">[</text>
<text transform="translate(92.00,251.80) rotate(-90) translate(0.00,0) scale(0.9853,1.0000)" class="lb" style="font-size:87.5px">W</text>
<text transform="translate(99.20,168.80) rotate(-90) translate(-1.57,0) scale(0.5997,1.1360)" class="lb" style="font-size:87px">]</text>
<text transform="translate(92.00,1200.10) rotate(-90) translate(-1.66,0) scale(0.9533,1.0000)" class="lb" style="font-size:87px">Power</text>
<text transform="translate(99.20,953.40) rotate(-90) translate(-3.65,0) scale(0.5997,1.1360)" class="lb" style="font-size:87px">[</text>
<text transform="translate(92.00,939.20) rotate(-90) translate(0.00,0) scale(0.9853,1.0000)" class="lb" style="font-size:87.5px">W</text>
<text transform="translate(99.20,856.20) rotate(-90) translate(-1.57,0) scale(0.5997,1.1360)" class="lb" style="font-size:87px">]</text>
<text transform="translate(1044.93,1473.70) scale(0.9993,1.0000)" class="lb" style="font-size:87px">Voltage</text>
<text transform="translate(1340.35,1480.90) scale(0.5997,1.1360)" class="lb" style="font-size:87px">[</text>
<text transform="translate(1357.17,1473.70) scale(0.9337,1.0000)" class="lb" style="font-size:89px">V</text>
<text transform="translate(1417.43,1480.90) scale(0.5997,1.1360)" class="lb" style="font-size:87px">]</text>
</svg>
</body></html>
